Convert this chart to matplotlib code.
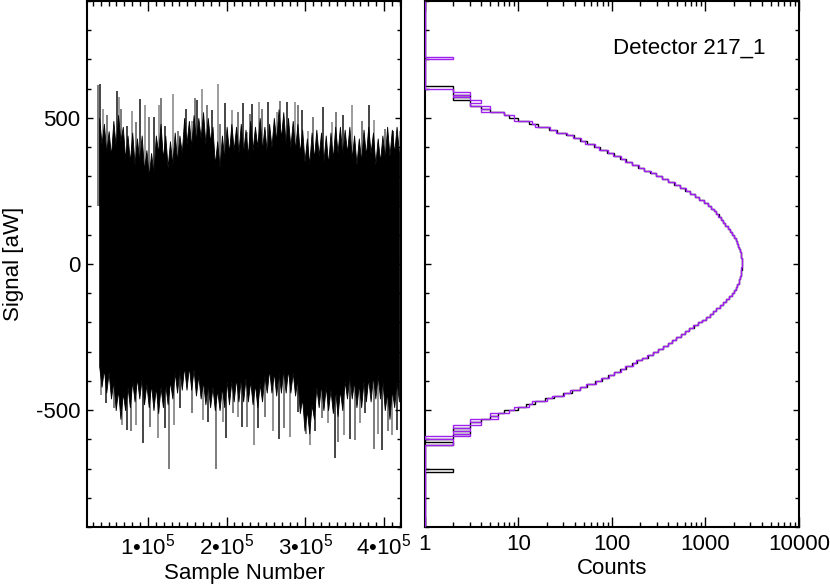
import numpy as np
import matplotlib
matplotlib.use('Agg')
import matplotlib.pyplot as plt
from matplotlib.ticker import FixedLocator, MultipleLocator, LogLocator, NullFormatter

plt.rcParams['font.family'] = ['Liberation Sans', 'DejaVu Sans']
plt.rcParams['mathtext.fontset'] = 'custom'
plt.rcParams['mathtext.rm'] = 'Liberation Sans'
plt.rcParams['mathtext.it'] = 'Liberation Sans:italic'
plt.rcParams['axes.unicode_minus'] = False
plt.rcParams['font.size'] = 16

# --- time stream: ragged edge of the dense band + single spikes
edge_x = np.arange(38000, 420000, 3000)   # sample number of each edge point
edge_hi = [500, 410, 480, 380, 455, 370, 490, 400, 510, 420, 470, 360, 440, 350, 450, 340,
           430, 350, 440, 320, 390, 300, 380, 310, 440, 380, 480, 360, 440, 330, 420, 340,
           450, 350, 440, 380, 500, 410, 490, 400, 510, 420, 500, 430, 520, 410, 500, 420,
           470, 340, 420, 330, 440, 360, 470, 380, 480, 390, 470, 380, 480, 380, 460, 370,
           490, 390, 470, 400, 500, 390, 470, 380, 480, 400, 500, 420, 530, 430, 520, 410,
           500, 400, 490, 390, 480, 380, 460, 350, 430, 340, 450, 360, 460, 370, 450, 350,
           440, 340, 450, 360, 470, 380, 470, 370, 460, 380, 470, 360, 440, 340, 430, 350,
           460, 370, 470, 380, 450, 340, 430, 350, 440, 360, 470, 370, 460, 380, 470, 380]
edge_lo = [-350, -420, -360, -440, -370, -460, -400, -500, -430, -530, -440, -500, -420, -490, -400, -470,
           -390, -460, -390, -480, -410, -490, -410, -500, -420, -510, -420, -490, -410, -480, -400, -460,
           -370, -440, -360, -430, -350, -430, -350, -430, -360, -450, -380, -460, -400, -480, -410, -490,
           -420, -500, -430, -500, -420, -490, -400, -480, -400, -470, -390, -470, -390, -470, -390, -470,
           -400, -480, -410, -490, -410, -470, -380, -440, -360, -440, -370, -450, -370, -440, -360, -440,
           -360, -440, -370, -450, -390, -510, -460, -570, -500, -580, -480, -530, -420, -490, -410, -500,
           -420, -500, -430, -510, -430, -520, -430, -500, -400, -460, -380, -460, -400, -490, -410, -490,
           -400, -470, -390, -470, -380, -460, -380, -460, -400, -500, -440, -530, -430, -490, -400, -470]

up_x = [36860, 39020, 43210, 47530, 60240, 63160, 65700, 72940, 79300, 84380,
        89840, 96200, 101280, 108010, 113980, 116140, 121610, 132150, 138510, 147910,
        155530, 159720, 161880, 168990, 174590, 180940, 188560, 191480, 197840, 206350,
        213980, 220330, 225410, 229620, 231780, 241050, 244490, 252870, 263550, 267740,
        276250, 286800, 291000, 296070, 303700, 310050, 322750, 334190, 338510, 348160,
        359600, 371540, 380810, 387550, 401140, 411680, 420190]
up_v = [612, 617, 531, 509, 592, 572, 531, 474, 523, 486,
        565, 543, 503, 503, 543, 569, 474, 583, 457, 531,
        491, 569, 560, 600, 543, 528, 617, 480, 551, 526,
        520, 551, 451, 514, 549, 554, 531, 554, 520, 558,
        553, 554, 543, 526, 457, 503, 537, 486, 520, 509,
        545, 491, 545, 494, 463, 454, 457]

down_x = [40290, 46260, 57190, 66590, 73700, 78410, 84380, 94040, 102550, 113090,
          121610, 126690, 133420, 140670, 155530, 169500, 176620, 186020, 194920, 199110,
          208390, 214740, 219820, 225410, 235070, 240150, 248660, 259210, 266830, 273180,
          280420, 290970, 300750, 305840, 312190, 320700, 329090, 337600, 341800, 349420,
          356670, 363020, 369370, 375720, 387550, 392630, 396950, 405460, 409780, 416130]
down_v = [-448, -476, -494, -551, -568, -570, -551, -614, -557, -597,
          -562, -700, -551, -494, -511, -534, -540, -700, -540, -597,
          -511, -523, -557, -557, -620, -562, -523, -573, -598, -562,
          -591, -505, -580, -620, -573, -528, -545, -663, -608, -585,
          -598, -602, -545, -511, -633, -580, -637, -573, -585, -568]

# --- histograms (signal bins in aW, counts)
bin_edges = np.concatenate(([-900], np.arange(-720, 721, 10), [900]))
counts_black = [1,
    1, 2, 1, 1, 1, 1, 1, 1, 1, 1, 2, 1, 2, 2, 3, 2, 3, 3, 4, 5,
    6, 7, 10, 12, 15, 19, 24, 30, 37, 45, 54, 66, 78, 91, 106, 122,
    141, 162, 185, 210, 240, 272, 310, 352, 400, 440, 489, 543, 603, 670,
    745, 830, 920, 1010, 1110, 1210, 1310, 1420, 1540, 1660, 1780, 1900,
    2010, 2110, 2190, 2260, 2310, 2350, 2385, 2410, 2430, 2440,
    2440, 2430, 2420, 2390, 2350, 2300, 2240, 2170, 2100, 2010, 1920, 1830,
    1730, 1630, 1545, 1460, 1380, 1300, 1225, 1150, 1060, 955, 855, 765,
    685, 610, 535, 465, 400, 345, 298, 258, 222, 192, 165, 142,
    122, 104, 88, 75, 64, 54, 46, 39, 32, 26, 21, 16, 13, 10, 8, 7,
    5, 4, 3, 3, 2, 3, 2, 2, 2, 1, 1, 1, 1, 1, 1, 1, 1, 1, 1, 1,
    1]
counts_purple = [1,
    1, 1, 1, 1, 1, 1, 1, 1, 1, 1, 2, 2, 1, 3, 2, 3, 2, 4, 3, 6,
    5, 8, 9, 13, 14, 20, 23, 31, 36, 46, 53, 67, 77, 92, 104, 124,
    138, 168, 180, 212, 238, 275, 308, 355, 398, 442, 487, 546, 600, 672,
    742, 833, 918, 1012, 1108, 1212, 1308, 1422, 1538, 1662, 1778, 1902,
    2008, 2112, 2188, 2262, 2308, 2352, 2383, 2412, 2428, 2442,
    2438, 2432, 2418, 2392, 2348, 2302, 2238, 2172, 2098, 2012, 1918, 1832,
    1728, 1632, 1543, 1462, 1378, 1302, 1223, 1152, 1058, 957, 853, 767,
    683, 612, 533, 467, 398, 347, 296, 260, 220, 194, 162, 138,
    126, 102, 90, 73, 66, 52, 47, 38, 33, 25, 22, 15, 14, 9, 9, 7,
    4, 5, 3, 4, 3, 2, 3, 2, 1, 1, 1, 1, 1, 1, 1, 1, 1, 1, 2, 1,
    1]

fig = plt.figure(figsize=(8.3, 5.85), dpi=100)
ax1 = fig.add_axes([0.1048, 0.0991, 0.3783, 0.8991])
ax2 = fig.add_axes([0.512, 0.0991, 0.4506, 0.8991])

# left: signal vs sample number
ax1.vlines(up_x, 200, up_v, colors=['0.4', '0.15', '0.55'] * 19, lw=1.2, zorder=1)
ax1.vlines(down_x, -200, down_v, colors=['0.5', '0.15', '0.4'] * 17, lw=1.2, zorder=1)
ax1.fill_between(edge_x, edge_lo, edge_hi, facecolor='black', edgecolor='black',
                 lw=0.6, zorder=2)
ax1.set_xlim(22500, 421600)
ax1.set_ylim(-900, 900)
ax1.xaxis.set_major_locator(FixedLocator([1e5, 2e5, 3e5, 4e5]))
ax1.set_xticklabels(['1•$10^5$', '2•$10^5$', '3•$10^5$', '4•$10^5$'])
ax1.xaxis.set_minor_locator(MultipleLocator(1e4))
ax1.yaxis.set_major_locator(FixedLocator([-500, 0, 500]))
ax1.set_yticklabels(['-500', '0', '500'])
ax1.yaxis.set_minor_locator(MultipleLocator(100))
ax1.set_xlabel('Sample Number', labelpad=2)
ax1.set_ylabel('Signal [aW]', labelpad=8)

# right: histogram
ax2.stairs(counts_black, bin_edges, orientation='horizontal', baseline=None,
           color='black', lw=1.0, zorder=3)
ax2.stairs(counts_purple, bin_edges, orientation='horizontal', baseline=None,
           color='#a020f0', lw=1.0, zorder=3)
ax2.set_xscale('log')
ax2.set_xlim(1, 10000)
ax2.set_ylim(-900, 900)
ax2.xaxis.set_major_locator(FixedLocator([1, 10, 100, 1000, 10000]))
ax2.set_xticklabels(['1', '10', '100', '1000', '10000'])
ax2.xaxis.set_minor_locator(LogLocator(base=10, subs=np.arange(2, 10)))
ax2.xaxis.set_minor_formatter(NullFormatter())
ax2.yaxis.set_major_locator(FixedLocator([-500, 0, 500]))
ax2.yaxis.set_minor_locator(MultipleLocator(100))
ax2.set_yticklabels([])
ax2.set_xlabel('Counts', labelpad=2)
ax2.text(0.503, 0.911, 'Detector 217_1', transform=ax2.transAxes,
         ha='left', va='center', fontsize=16)

for ax in (ax1, ax2):
    for s in ax.spines.values():
        s.set_linewidth(1.5)
    ax.tick_params(which='both', direction='in', top=True, right=True,
                   width=1.0, labelsize=16, pad=5)
    ax.tick_params(axis='x', which='major', length=7.2)
    ax.tick_params(axis='x', which='minor', length=3.6)
    ax.tick_params(axis='y', which='major', length=4.5)
    ax.tick_params(axis='y', which='minor', length=2.6)

fig.savefig('out.png', dpi=100)
